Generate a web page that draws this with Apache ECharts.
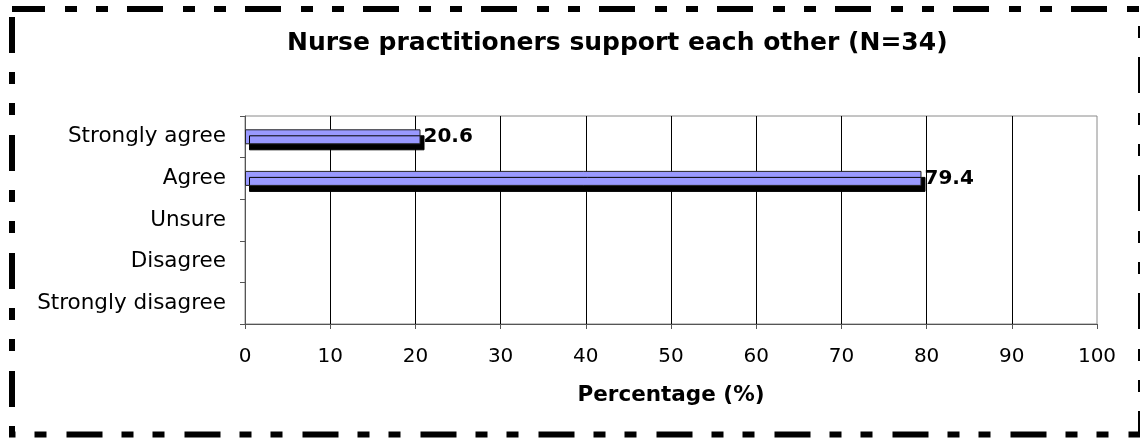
<!DOCTYPE html>
<html>
<head>
<meta charset="utf-8">
<style>
  html, body { margin: 0; padding: 0; background: #fff; }
  #chart { width: 1140px; height: 438px; }
</style>
<script src="https://cdn.jsdelivr.net/npm/echarts@6/dist/echarts.min.js"></script>
</head>
<body>
<div id="chart"></div>
<script>
// Survey responses: share of nurse practitioners per answer
const categories = ['Strongly agree', 'Agree', 'Unsure', 'Disagree', 'Strongly disagree'];
const percentages = [20.6, 79.4, null, null, null];
const titleText = 'Nurse practitioners support each other (N=34)';
const axisName = 'Percentage (%)';

const FONT = '"DejaVu Sans", Verdana, sans-serif';

const chart = echarts.init(document.getElementById('chart'), null, { renderer: 'canvas' });

chart.setOption({
  backgroundColor: '#ffffff',
  animation: false,
  title: {
    text: titleText,
    left: 282,
    top: 26,
    textStyle: { fontFamily: FONT, fontSize: 25, fontWeight: 'bold', color: '#000' }
  },
  grid: {
    left: 245,
    right: 43,
    top: 116,
    bottom: 114,
    show: true,
    borderColor: '#8a8a8a',
    borderWidth: 1,
    backgroundColor: 'transparent'
  },
  xAxis: {
    type: 'value',
    min: 0,
    max: 100,
    interval: 10,
    name: axisName,
    nameLocation: 'middle',
    nameGap: 60,
    nameTextStyle: { fontFamily: FONT, fontSize: 21.5, fontWeight: 'bold', color: '#000' },
    axisLine: { show: true, lineStyle: { color: '#555', width: 1 } },
    axisTick: { show: true, length: 5, lineStyle: { color: '#555' } },
    axisLabel: { fontFamily: FONT, fontSize: 20, color: '#000', margin: 23 },
    splitLine: { show: true, showMinLine: false, showMaxLine: false, lineStyle: { color: '#000', width: 1 } }
  },
  yAxis: {
    type: 'category',
    data: categories,
    inverse: true,
    axisLine: { show: true, lineStyle: { color: '#555', width: 1 } },
    axisTick: { show: true, length: 5, alignWithLabel: false, lineStyle: { color: '#555' } },
    axisLabel: { fontFamily: FONT, fontSize: 21.5, color: '#000', margin: 19 },
    splitLine: { show: false }
  },
  series: [{
    type: 'bar',
    data: percentages,
    barWidth: 15,
    itemStyle: {
      color: '#9999ff',
      borderColor: '#222',
      borderWidth: 1,
      shadowColor: '#000',
      shadowBlur: 0,
      shadowOffsetX: 4,
      shadowOffsetY: 6
    },
    label: {
      show: true,
      position: 'right',
      distance: 3,
      fontFamily: FONT,
      fontSize: 20,
      fontWeight: 'bold',
      color: '#000',
      formatter: p => p.value == null ? '' : p.value.toFixed(1)
    }
  }],
  graphic: [{
    type: 'rect',
    silent: true,
    shape: { x: 12, y: 9, width: 1129, height: 425.5 },
    style: {
      fill: 'none',
      stroke: '#000',
      lineWidth: 6,
      lineDash: [36, 20, 12, 19, 12, 19],
      lineDashOffset: 3
    }
  }]
});
</script>
</body>
</html>
